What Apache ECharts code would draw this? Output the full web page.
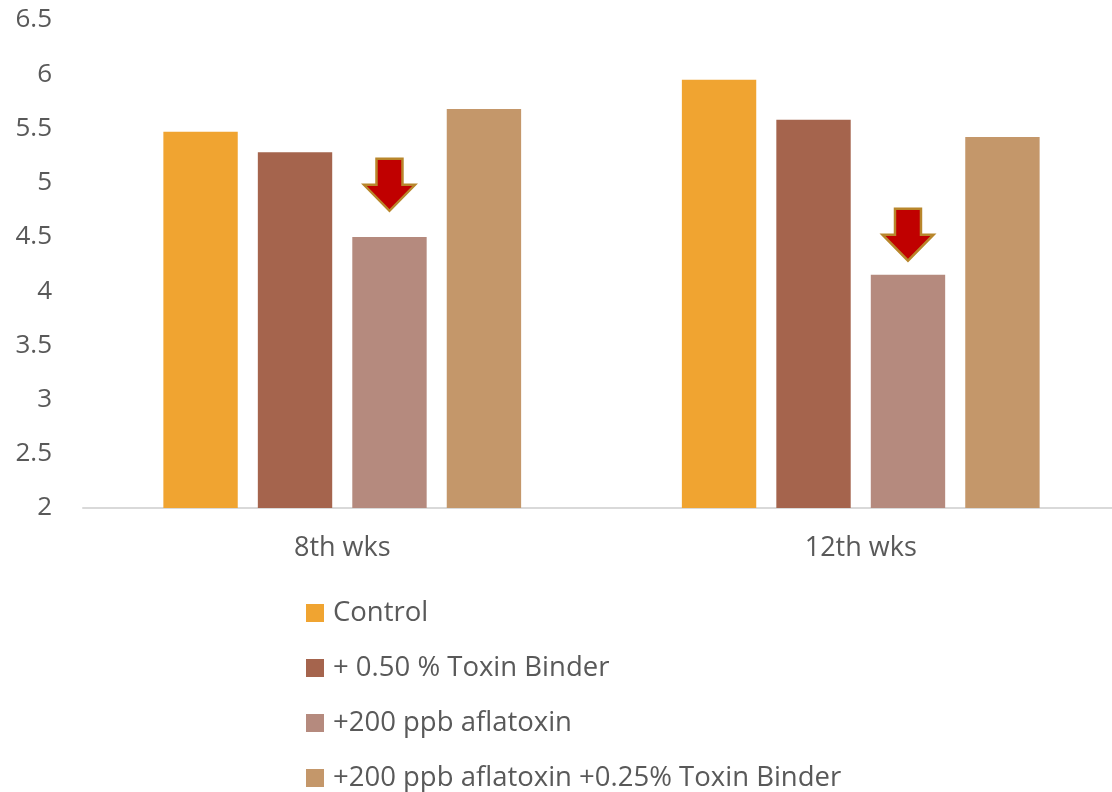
<!DOCTYPE html>
<html>
<head>
<meta charset="utf-8">
<script src="https://cdn.jsdelivr.net/npm/echarts@6/dist/echarts.min.js"></script>
<style>
html,body{margin:0;padding:0;background:#fff;}
#chart{width:1112px;height:792px;}
</style>
</head>
<body>
<div id="chart"></div>
<script>
const categories = ['8th wks', '12th wks'];
const seriesNames = ['Control', '+ 0.50 % Toxin Binder', '+200 ppb aflatoxin', '+200 ppb aflatoxin +0.25% Toxin Binder'];
const control = [5.47, 5.95];
const binder050 = [5.28, 5.58];
const aflatoxin = [4.50, 4.15];
const aflaBinder = [5.68, 5.42];
const arrowValues = [4.98, 4.52];
const yTicks = [2, 2.5, 3, 3.5, 4, 4.5, 5, 5.5, 6, 6.5];
const colors = ['#F0A431', '#A5644D', '#B58A7E', '#C4976A'];

const font = '"Open Sans", "Noto Sans", sans-serif';
const textColor = '#595959';
const arrowPath = 'path://M12.5,0 H38.5 V26 H51 L25.5,52 L0,26 H12.5 Z';

const values = [control, binder050, aflatoxin, aflaBinder];
const series = values.map((v, i) => {
  const s = {
    name: seriesNames[i],
    type: 'bar',
    data: v,
    barGap: '27%',
    barCategoryGap: '31%',
    itemStyle: { color: colors[i] },
    emphasis: { disabled: true }
  };
  if (i === 2) {
    s.markPoint = {
      symbol: arrowPath,
      symbolSize: [51, 52],
      itemStyle: { color: '#C00000', borderColor: '#B8862B', borderWidth: 2.5 },
      label: { show: false },
      data: categories.map((c, k) => ({ coord: [c, arrowValues[k]] }))
    };
  }
  return s;
});

const chart = echarts.init(document.getElementById('chart'));
chart.setOption({
  animation: false,
  textStyle: { fontFamily: font },
  grid: { left: 83, width: 1037, top: 20, bottom: 284, containLabel: false, outerBoundsMode: 'none' },
  legend: {
    orient: 'vertical',
    left: 306,
    top: 599,
    height: 220,
    padding: 0,
    itemWidth: 18,
    itemHeight: 18,
    itemGap: 27,
    icon: 'rect',
    data: seriesNames,
    textStyle: { fontFamily: font, fontSize: 27.5, color: textColor, padding: [0, 0, 0, 4] }
  },
  xAxis: {
    type: 'category',
    data: categories,
    axisLine: { lineStyle: { color: '#D9D9D9', width: 2 } },
    axisTick: { show: false },
    axisLabel: { fontFamily: font, fontSize: 27, color: textColor, margin: 27 }
  },
  yAxis: {
    type: 'value',
    min: yTicks[0],
    max: yTicks[yTicks.length - 1],
    interval: 0.5,
    axisLine: { show: false },
    axisTick: { show: false },
    splitLine: { show: false },
    axisLabel: { fontFamily: font, fontSize: 26, color: textColor, margin: 31 }
  },
  series: series
});
</script>
</body>
</html>
